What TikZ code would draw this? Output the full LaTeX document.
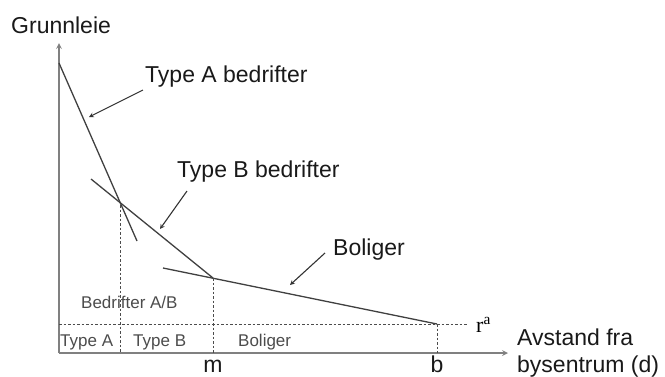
\documentclass[tikz,border=0pt]{standalone}
\usepackage{fontspec}
\setmainfont{Liberation Sans}
\newfontfamily\serifrm{Liberation Serif}
\usetikzlibrary{arrows,positioning}

\begin{document}
\begin{tikzpicture}[x=1pt, y=-1pt, auto]

% Define styles
\tikzstyle{axis} = [draw=black!50, line width=1.6pt, ->, >=stealth]
\tikzstyle{curve} = [draw=black!75, line width=1.3pt]
\tikzstyle{guide} = [draw=black!70, line width=1pt, dash pattern=on 2.5pt off 2pt]
\tikzstyle{pointer} = [draw=black!80, line width=1.1pt, ->, >=stealth]
\tikzstyle{big} = [inner sep=0pt, text=black!90, font=\fontsize{23}{27}\selectfont]
\tikzstyle{small} = [inner sep=0pt, text=black!70, font=\fontsize{17}{20}\selectfont]

\useasboundingbox (0,0) rectangle (665,376);

% Points
\coordinate (origo) at (59,353);
\coordinate (ytop) at (59,43);
\coordinate (xend) at (508,353);
\coordinate (astart) at (59,63);
\coordinate (aend) at (137,241);
\coordinate (bstart) at (91,179);
\coordinate (ab) at (120,205);
\coordinate (bm) at (213,278);
\coordinate (cstart) at (163,268);
\coordinate (cb) at (437,324);
\coordinate (rleft) at (59,324);
\coordinate (rright) at (468,324);

% Axes
\draw [axis] (origo) -- (ytop);
\draw [axis] (origo) -- (xend);

% Rent curves
\draw [curve] (astart) -- (aend);
\draw [curve] (bstart) -- (bm);
\draw [curve] (cstart) -- (cb);

% Guides
\draw [guide] (rleft) -- (rright);
\draw [guide] (ab) -- (ab |- origo);
\draw [guide] (bm) -- (bm |- origo);
\draw [guide] (cb) -- (cb |- origo);

% Labels
\node [big, anchor=base west] (ylabel) at (11,33) {Grunnleie};
\node [big, anchor=base west] (alabel) at (145,82) {Type A bedrifter};
\node [big, anchor=base west] (blabel) at (177,177) {Type B bedrifter};
\node [big, anchor=base west] (clabel) at (333,255) {Boliger};
\node [big, anchor=base west] (xlabel) at (517,345) {Avstand fra};
\node [big, anchor=base west] (xlabel2) at (517,372) {bysentrum (d)};
\node [big, anchor=base] (mlabel) at (213,372) {m};
\node [big, anchor=base] (blbl) at (437,372) {b};
\node [inner sep=0pt, anchor=base west, font=\serifrm\fontsize{22}{24}\selectfont] (ra) at (476,332) {r\textsuperscript{a}};

\node [small, anchor=base west] (zonea) at (60,346) {Type A};
\node [small, anchor=base west] (zoneb) at (133,346) {Type B};
\node [small, anchor=base west] (zonec) at (238,346) {Boliger};
\node [small, anchor=base west] (zoneab) at (81,308) {Bedrifter A/B};

% Arrows
\coordinate (atip) at (89,117);
\coordinate (btip) at (160,229);
\coordinate (ctip) at (290,285);
\draw [pointer] (143,90) -- (atip);
\draw [pointer] (187,191) -- (btip);
\draw [pointer] (325,253) -- (ctip);

\end{tikzpicture}
\end{document}
